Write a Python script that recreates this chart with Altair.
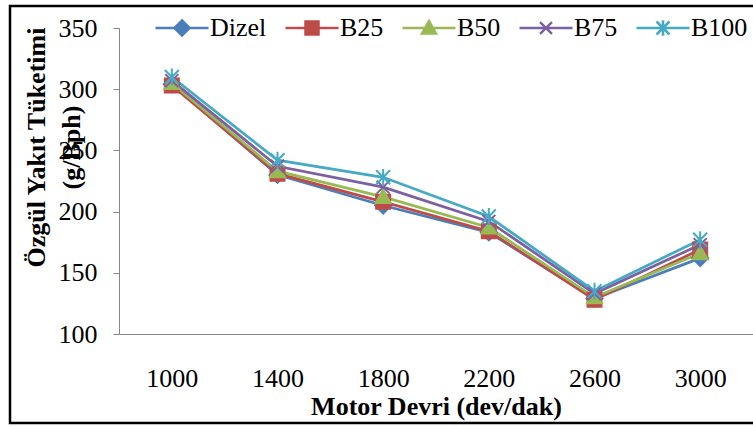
import altair as alt
import pandas as pd

# ---- data ----
rpm = ["1000", "1400", "1800", "2200", "2600", "3000"]
series_names = ["Dizel", "B25", "B50", "B75", "B100"]
dizel = [304, 230, 205, 183, 129, 162]
b25 = [303, 231, 208, 184, 128, 169]
b50 = [305, 233, 212, 187, 130, 166]
b75 = [307, 237, 220, 192, 133, 173]
b100 = [310, 242, 228, 196, 135, 177]
y_ticks = [100, 150, 200, 250, 300, 350]
colors = ["#4A7EBB", "#BE4B48", "#98B954", "#7D60A0", "#46AAC5"]

rows = []
for name, vals in zip(series_names, [dizel, b25, b50, b75, b100]):
    for r, v in zip(rpm, vals):
        rows.append({"rpm": r, "series": name, "value": v})
df = pd.DataFrame(rows)

FONT = "Liberation Serif"


def marker(kind, s):
    if kind == "diamond":
        return f"M0,{-s}L{s},0L0,{s}L{-s},0Z"
    if kind == "square":
        return f"M{-s},{-s}H{s}V{s}H{-s}Z"
    if kind == "triangle":
        return f"M0,{-s}L{s},{0.8*s}L{-s},{0.8*s}Z"
    if kind == "x":
        return f"M{-s},{-s}L{s},{s}M{-s},{s}L{s},{-s}"
    # star
    return f"M{-s},{-s}L{s},{s}M{-s},{s}L{s},{-s}M0,{-1.2*s}V{1.2*s}"


kinds = ["diamond", "square", "triangle", "x", "star"]
half_px = [8.0, 7.0, 7.5, 6.5, 7.0]
DATA_SIZE = 196  # box side 14 px -> half 7
data_paths = [marker(k, round(h / 7.0, 3)) for k, h in zip(kinds, half_px)]
LEG_HALF = 26.5
leg_half_px = [7.5, 6.5, 7.0, 6.0, 6.5]
legend_paths = ["M-1,0H1" + marker(k, round(h / LEG_HALF, 3)) for k, h in zip(kinds, leg_half_px)]

x_enc = alt.X(
    "rpm:O",
    scale=alt.Scale(padding=0.5),
    axis=alt.Axis(
        labelAngle=0, ticks=False, tickSize=0, domainColor="#868686", domainWidth=1,
        labelPadding=31, labelFont=FONT, labelFontSize=26, labelColor="black",
        title="Motor Devri (dev/dak)", titleFont=FONT, titleFontSize=26,
        titleFontWeight="bold", titleColor="black", titleX=317, titleY=80,
        titleBaseline="alphabetic", titleAlign="center",
    ),
)
y_enc = alt.Y(
    "value:Q",
    scale=alt.Scale(domain=[100, 350], nice=False, zero=False),
    axis=alt.Axis(
        values=y_ticks, grid=False, domainColor="#868686", tickColor="#868686",
        tickSize=6, labelPadding=16, labelFont=FONT, labelFontSize=26, labelColor="black",
        title=["Özgül Yakıt Tüketimi", "(g/Bph)"], titleFont=FONT, titleFontSize=26,
        titleFontWeight="bold", titleColor="black", titleAngle=270, titleX=-83,
        titleY=119, titleBaseline="middle", titleAlign="center", titleLineHeight=35,
    ),
)

layers = []
for i, name in enumerate(series_names):
    base = alt.Chart(df).transform_filter(alt.datum.series == name)
    layers.append(
        base.mark_line(strokeWidth=2.75, stroke=colors[i]).encode(x=x_enc, y=y_enc)
    )
for i, name in enumerate(series_names):
    base = alt.Chart(df).transform_filter(alt.datum.series == name)
    layers.append(
        base.mark_point(shape=data_paths[i], size=DATA_SIZE, strokeWidth=2, opacity=1,
                        fill=colors[i], stroke=colors[i],
                        fillOpacity=1 if kinds[i] in ("diamond", "square", "triangle") else 0).encode(
            x=x_enc, y=y_enc,
        )
    )

leg = alt.Legend(
    orient="none", legendX=35, legendY=-28, direction="horizontal", title=None,
    labelFont=FONT, labelFontSize=26, labelColor="black", symbolSize=2809,
    symbolStrokeWidth=2.5, labelOffset=0, columnPadding=13, symbolOpacity=1, padding=0,
)
# legend-only layer: its marks sit outside the canvas, only the legend shows
legend_layer = alt.Chart(df).mark_point(filled=False).encode(
    x=alt.value(-2000), y=alt.value(-2000),
    stroke=alt.Stroke("series:N", scale=alt.Scale(domain=series_names, range=colors), legend=leg),
    fill=alt.Fill("series:N", scale=alt.Scale(domain=series_names, range=colors), legend=leg),
    shape=alt.Shape("series:N", scale=alt.Scale(domain=series_names, range=legend_paths), legend=leg),
)

border = alt.Chart(pd.DataFrame({"a": [0]})).mark_rect(
    fill="transparent", stroke="black", strokeWidth=2.5
).encode(
    x=alt.value(-109), x2=alt.value(700), y=alt.value(-22), y2=alt.value(395)
)

chart = alt.layer(*layers, legend_layer, border).properties(
    width=634, height=306,
    padding={"left": 119, "top": 28, "right": 0, "bottom": 92},
    autosize=alt.AutoSizeParams(type="none"),
    background="white",
).configure(font=FONT).configure_view(strokeWidth=0).configure_legend(
    labelFont=FONT, labelFontSize=26, labelColor="black"
)

chart.save("out.html", embed_options={"renderer": "svg", "actions": False})
